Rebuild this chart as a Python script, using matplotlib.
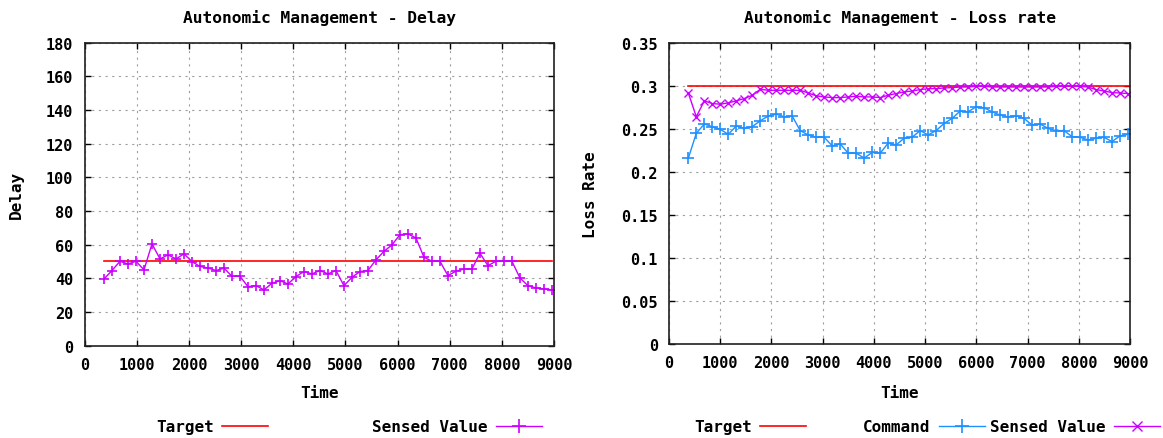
#!/usr/bin/env python

"""Autonomic management plots: delay and loss rate."""

import numpy as np
import matplotlib.pyplot as plt
from matplotlib.lines import Line2D
from matplotlib.ticker import FuncFormatter, MultipleLocator

plt.rc('font', family='DejaVu Sans Mono', weight='bold', size=11.5)

# sample times (s)
time_delay = np.linspace(372, 8960, 57)
time_loss = np.linspace(377, 8960, 56)

# delay chart
delay_target = 50
delay_sensed = [39.6, 44.6, 50.1, 48.5, 50.1, 45.0, 60.4, 51.5, 53.9, 51.5,
                54.5, 49.9, 47.0, 46.1, 44.6, 46.0, 41.2, 41.2, 35.0, 35.6,
                33.1, 37.0, 38.6, 36.6, 41.0, 44.0, 42.6, 44.6, 42.6, 44.6,
                35.6, 40.6, 44.0, 44.6, 50.9, 56.0, 59.8, 65.9, 66.3, 64.0,
                52.5, 50.1, 50.1, 41.6, 44.2, 45.5, 45.5, 54.9, 47.5, 50.1,
                50.5, 50.1, 40.2, 35.6, 34.3, 33.7, 33.1]

# loss rate chart
loss_target = 0.3
loss_command = [0.216, 0.245, 0.2558, 0.2527, 0.2496, 0.2438, 0.2535, 0.2508,
                0.2527, 0.2596, 0.265, 0.2673, 0.2642, 0.265, 0.2481, 0.2431,
                0.2404, 0.2404, 0.2304, 0.2327, 0.2219, 0.2219, 0.2162,
                0.2227, 0.2219, 0.2335, 0.2315, 0.2392, 0.2404, 0.2481,
                0.2431, 0.2481, 0.2565, 0.2623, 0.2708, 0.27, 0.2758, 0.2746,
                0.27, 0.2662, 0.2642, 0.2654, 0.2623, 0.2546, 0.2558, 0.2508,
                0.2481, 0.2481, 0.2412, 0.2404, 0.2373, 0.2392, 0.2404,
                0.2354, 0.2419, 0.2438]
loss_sensed = [0.2919, 0.2642, 0.2827, 0.2796, 0.2788, 0.2804, 0.2827, 0.2854,
               0.2892, 0.2962, 0.295, 0.295, 0.295, 0.295, 0.295, 0.2919,
               0.2885, 0.2873, 0.2865, 0.2865, 0.2873, 0.288, 0.2873, 0.2873,
               0.2865, 0.2892, 0.2912, 0.2931, 0.2942, 0.2958, 0.2969, 0.2969,
               0.2977, 0.2981, 0.2988, 0.2988, 0.2996, 0.2996, 0.2988, 0.2988,
               0.2988, 0.2988, 0.2988, 0.2988, 0.2988, 0.2988, 0.2996, 0.2996,
               0.3, 0.2996, 0.2988, 0.2958, 0.2942, 0.2923, 0.2919, 0.2912]

RED = '#ff0000'
PURPLE = '#cc00ff'
BLUE = '#1e90ff'


def style_axes(ax, title, ylabel, ylab_x, xlab_y):
    """Gnuplot-like box, ticks and dotted grid."""
    ax.set_xlim(0, 9000)
    ax.xaxis.set_major_locator(MultipleLocator(1000))
    ax.tick_params(direction='in', length=4, width=1, top=True, right=True,
                   pad=8, labelsize=11)
    ax.grid(True, color='#a0a0a0', linestyle=(0, (2, 4)), linewidth=0.8)
    for s in ax.spines.values():
        s.set_linewidth(1.2)
        s.set_color('#202020')
    ax.set_title(title, y=1.086, pad=0, va='center', fontsize=11.7,
                 fontweight='bold')
    ax.set_ylabel(ylabel, fontweight='bold')
    ax.set_xlabel('Time', fontweight='bold')
    ax.yaxis.set_label_coords(ylab_x, 0.5)
    ax.xaxis.set_label_coords(0.5, xlab_y)


def key(fig, handle, label, x_px, y_px=428):
    """Single legend entry, text on the left, sample ending at x_px."""
    w, h = 1163.0, 439.0
    leg = fig.legend([handle], [label], loc='center right',
                     bbox_to_anchor=(x_px / w, 1 - y_px / h),
                     markerfirst=False, frameon=False, borderpad=0,
                     borderaxespad=0, handlelength=2.9, handletextpad=0.5,
                     numpoints=1)
    return leg


def main():
    fig = plt.figure(figsize=(11.63, 4.39), dpi=100)
    ax1 = fig.add_axes([84.6 / 1163, 1 - 346.6 / 439, 469.4 / 1163, 303 / 439])
    ax2 = fig.add_axes([669 / 1163, 1 - 345 / 439, 461 / 1163, 301 / 439])

    # delay
    ax1.plot(time_delay, [delay_target] * len(time_delay), color=RED, lw=1.2)
    ax1.plot(time_delay, delay_sensed, color=PURPLE, lw=1, marker='+',
             markersize=7, markeredgewidth=1.2)
    ax1.set_ylim(0, 180)
    ax1.yaxis.set_major_locator(MultipleLocator(20))
    style_axes(ax1, 'Autonomic Management - Delay', 'Delay', -0.129, -0.129)

    # loss rate
    ax2.plot(list(time_loss) + [9000], [loss_target] * (len(time_loss) + 1),
             color=RED, lw=1.2)
    ax2.plot(time_loss, loss_command, color=BLUE, lw=1, marker='+',
             markersize=8, markeredgewidth=1.2)
    ax2.plot(time_loss, loss_sensed, color=PURPLE, lw=1, marker='x',
             markersize=6, markeredgewidth=1)
    ax2.set_ylim(0, 0.35)
    ax2.yaxis.set_major_locator(MultipleLocator(0.05))
    ax2.yaxis.set_major_formatter(FuncFormatter(lambda v, p: '%g' % round(v, 2)))
    style_axes(ax2, 'Autonomic Management - Loss rate', 'Loss Rate',
               -0.154, -0.136)

    # legends below the charts
    h_red = Line2D([], [], color=RED, lw=1.2)
    h_pur = Line2D([], [], color=PURPLE, lw=1, marker='+', markersize=10,
                   markeredgewidth=1.2)
    h_blue = Line2D([], [], color=BLUE, lw=1, marker='+', markersize=10,
                    markeredgewidth=1.2)
    h_purx = Line2D([], [], color=PURPLE, lw=1, marker='x', markersize=7,
                    markeredgewidth=1)
    key(fig, h_red, 'Target', 268)
    key(fig, h_pur, 'Sensed Value', 542)
    key(fig, h_red, 'Target', 806)
    key(fig, h_blue, 'Command', 985)
    key(fig, h_purx, 'Sensed Value', 1160)

    fig.savefig('out.png', dpi=100)


if __name__ == '__main__':
    main()
